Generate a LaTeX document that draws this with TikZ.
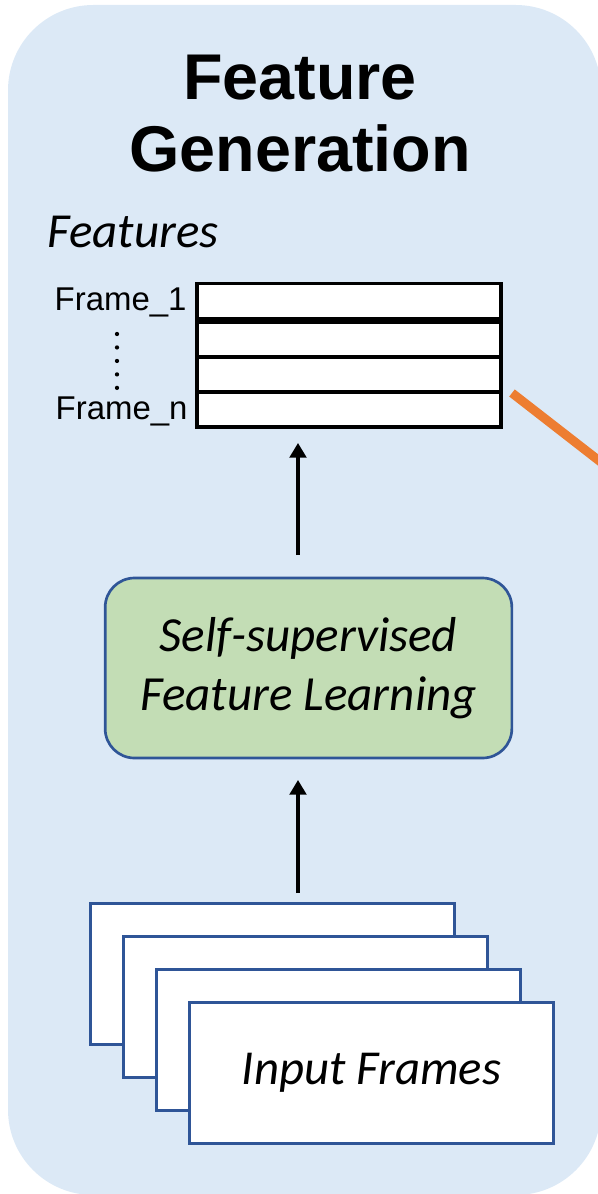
\documentclass[tikz,border=0pt]{standalone}
\usepackage{fontspec}
\setmainfont{Liberation Sans}
\newfontfamily\calibfont{Carlito}
\usetikzlibrary{arrows.meta}

\definecolor{panelblue}{HTML}{DCE9F6}
\definecolor{learngreen}{HTML}{C3DDB5}
\definecolor{frameblue}{HTML}{2F5597}
\definecolor{linkorange}{HTML}{ED7D31}

\tikzset{every picture/.style={line width=0.75pt}}
\tikzset{
  rowbox/.style={draw=black, fill=white, line width=2.6pt, minimum width=228pt, minimum height=26pt, inner sep=0pt},
  framebox/.style={draw=frameblue, fill=white, line width=2.3pt, minimum width=273pt, minimum height=106pt, inner sep=0pt},
  arr/.style={line width=2.3pt, -{Triangle[width=12.5pt,length=11pt]}}
}

\begin{document}
\begin{tikzpicture}[x=0.75pt,y=0.75pt,yscale=-1,xscale=1]
		\useasboundingbox (0,0) rectangle (598,1194);

		% Panel
		\begin{scope}
		\clip (0,0) rectangle (598,1194);
		\fill [panelblue, rounded corners=64pt] (8,5) rectangle (601,1195);
		%Straight Lines (orange link)
		\coordinate (olink) at (512,393);
		\coordinate (oend) at (620,477);
		\draw [linkorange, line width=6.75pt] (olink) -- (oend);
		\end{scope}

		% Text Node
		\node (title) at (300,114) [align=center, inner sep=0.75pt, font=\fontsize{48.5}{54}\selectfont\bfseries] {Feature\\Generation};
		% Text Node
		\node (featlab) at (46,232) [anchor=west, inner sep=0.75pt, font=\fontsize{36.7}{42}\selectfont\calibfont\itshape] {Features};

		% Feature rows
		\node [rowbox] (row1) at (349,301) {};
		\node [rowbox] (row2) at (349,339.5) {};
		\node [rowbox] (row3) at (349,374.5) {};
		\node [rowbox] (row4) at (349,409.5) {};

		% Text Node
		\node (f1lab) at (188,302) [anchor=east, inner sep=0.75pt, font=\fontsize{24.7}{28}\selectfont] {Frame\_1};
		% Text Node
		\node (fnlab) at (189,411) [anchor=east, inner sep=0.75pt, font=\fontsize{24.7}{28}\selectfont] {Frame\_n};
		\draw [line width=3.2pt, line cap=round, dash pattern=on 0pt off 10.1pt] (117,334) -- (117,388);

		% Learning block
		\node [draw=frameblue, fill=learngreen, line width=2pt, rounded corners=22pt, minimum width=305pt, minimum height=135pt, align=center, font=\fontsize{36.8}{44}\selectfont\calibfont\itshape] (learn) at (308.5,668) {Self-supervised\\Feature Learning};

		% Input frames
		\node [framebox] (frm1) at (272.5,974) {};
		\node [framebox] (frm2) at (305.5,1007) {};
		\node [framebox] (frm3) at (338.5,1040) {};
		\node [framebox, font=\fontsize{36.6}{44}\selectfont\calibfont\itshape] (frm4) at (371.5,1073) {Input Frames};

		% Arrows
		\coordinate (a1s) at (298,555);
		\coordinate (a1e) at (298,443);
		\draw [arr] (a1s) -- (a1e);
		\coordinate (a2s) at (298,893);
		\coordinate (a2e) at (298,780);
		\draw [arr] (a2s) -- (a2e);

		\end{tikzpicture}
\end{document}
